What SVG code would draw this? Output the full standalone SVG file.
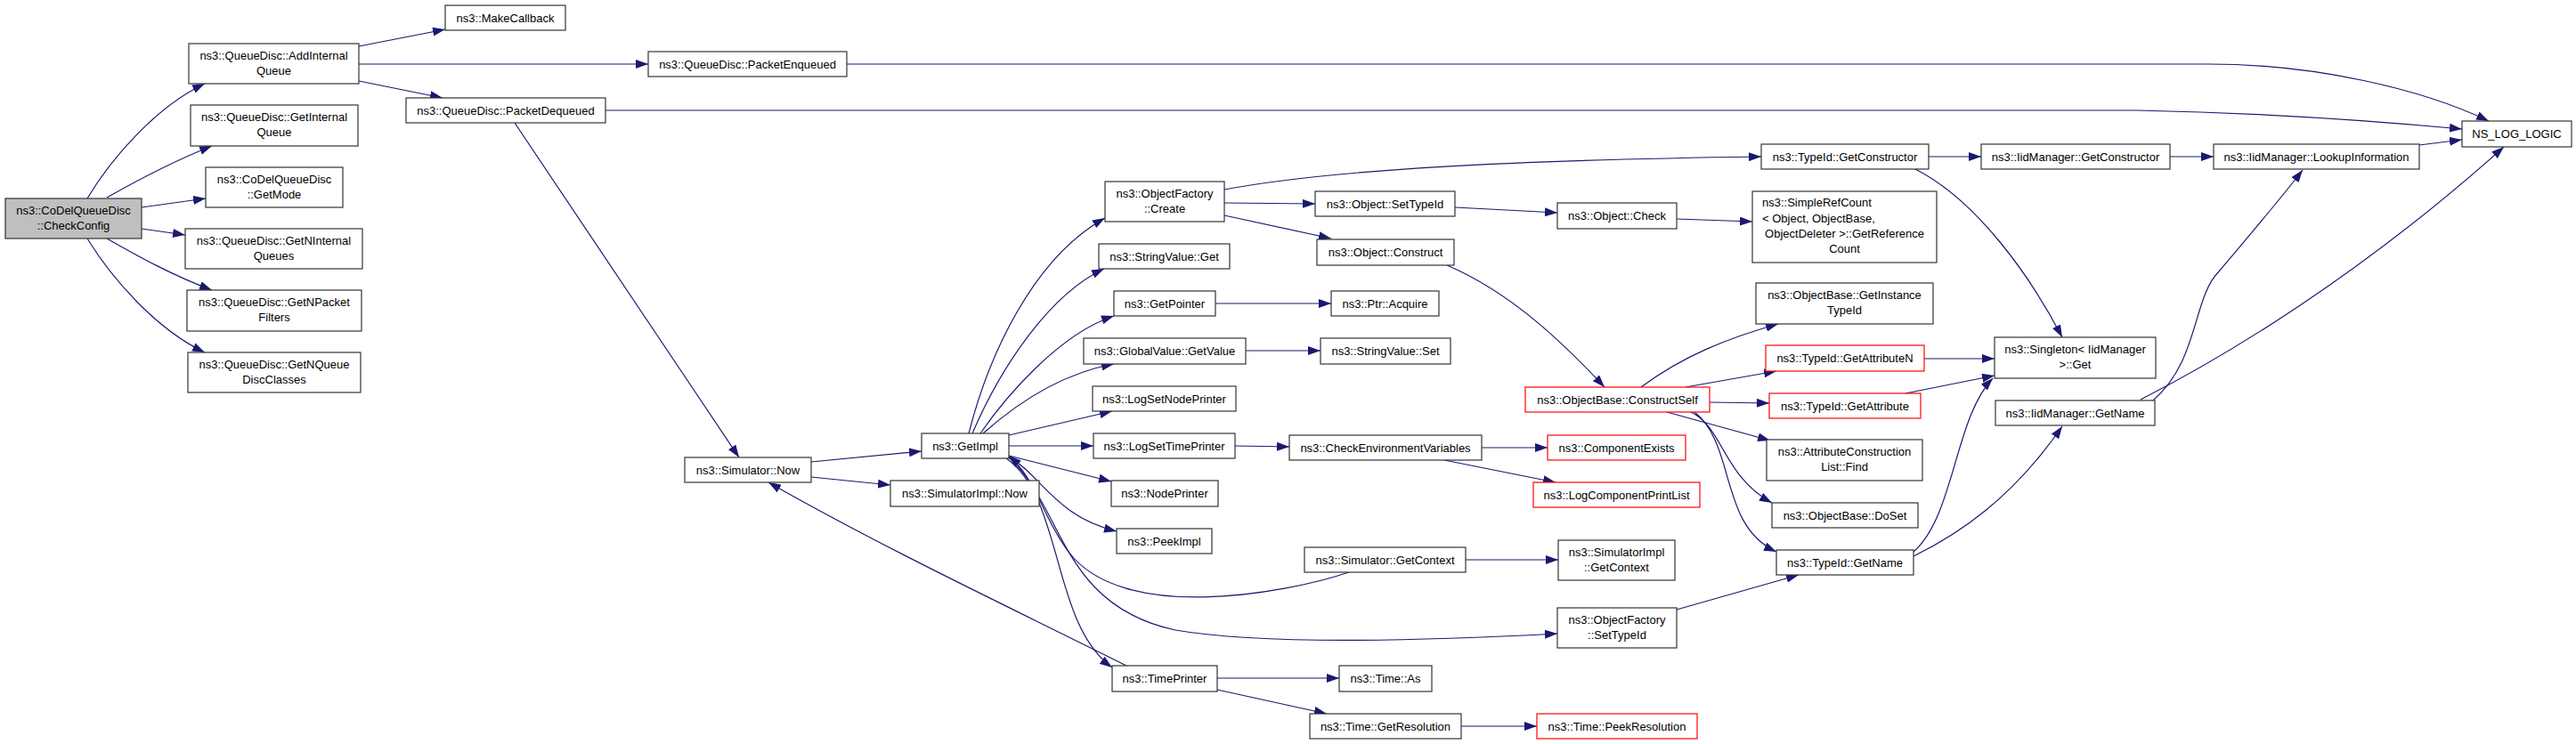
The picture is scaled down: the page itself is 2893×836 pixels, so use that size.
<svg xmlns="http://www.w3.org/2000/svg" width="2893" height="836" viewBox="0 0 2893 836">
<defs>
<style>
.n rect{fill:#ffffff;stroke:#333333;stroke-width:1.2}
.root rect{fill:#bfbfbf}
.red rect{stroke:#ff0000}
.n text{font-family:"Liberation Sans",Arial,sans-serif;font-size:13px;fill:#000000;text-anchor:middle}
.n text.l{text-anchor:start}
#edges path{fill:none;stroke:#191970;stroke-width:1.2;marker-end:url(#ah)}
</style>
<marker id="ah" markerWidth="14" markerHeight="10" refX="14" refY="5" orient="auto" markerUnits="userSpaceOnUse"><path d="M0,0 L14,5 L0,10 z" fill="#191970"/></marker>
</defs>
<rect x="0" y="0" width="2893" height="836" fill="#ffffff"/>
<g id="edges">
<path d="M98,223 C125,178 175,120 230,94"/>
<path d="M120,222 C150,205 190,183 238,164"/>
<path d="M159,233 L231,223"/>
<path d="M159,257 L208,264"/>
<path d="M120,268 C150,285 190,308 238,326"/>
<path d="M98,268 C125,312 175,370 230,396"/>
<path d="M403,52 L500,33"/>
<path d="M403,72 L728,72"/>
<path d="M403,91 L497,110"/>
<path d="M951,72 L2480,72 C2600,72 2720,100 2795,136"/>
<path d="M680,124 L2400,124 C2550,127 2680,137 2765,145"/>
<path d="M578,138 L830,514"/>
<path d="M911,519 L1035,507"/>
<path d="M911,536 L1000,545"/>
<path d="M1265,748 C1150,690 1000,620 863,542"/>
<path d="M1088,487 C1110,400 1160,290 1241,245"/>
<path d="M1092,487 C1125,410 1180,330 1240,302"/>
<path d="M1101,487 C1130,445 1190,375 1251,355"/>
<path d="M1104,487 C1140,455 1190,420 1251,409"/>
<path d="M1133,489 L1249,462"/>
<path d="M1133,501 L1228,501"/>
<path d="M1133,512 L1248,541"/>
<path d="M1133,513 C1170,535 1185,580 1254,597"/>
<path d="M1130,515 C1195,560 1180,700 1249,750"/>
<path d="M1515,643 C1440,668 1260,700 1200,620 C1170,580 1165,540 1133,512"/>
<path d="M1133,514 C1195,570 1190,680 1320,708 C1420,725 1600,720 1749,712"/>
<path d="M1375,213 C1500,190 1700,180 1978,176"/>
<path d="M1375,228 L1477,229"/>
<path d="M1375,242 L1495,268"/>
<path d="M1634,233 L1749,239"/>
<path d="M1883,246 L1968,249"/>
<path d="M1625,298 C1700,330 1760,390 1802,435"/>
<path d="M1843,435 C1890,400 1940,380 1997,364"/>
<path d="M1893,435 L1995,417"/>
<path d="M1920,452 L1987,453"/>
<path d="M1872,463 L1988,495"/>
<path d="M1899,463 C1935,480 1935,535 1990,565"/>
<path d="M1903,463 C1950,500 1930,590 1995,620"/>
<path d="M1883,685 L2020,646"/>
<path d="M1664,503 L1738,503"/>
<path d="M1622,517 L1747,542"/>
<path d="M1387,501 L1448,502"/>
<path d="M1646,629 L1750,629"/>
<path d="M1367,762 L1504,762"/>
<path d="M1367,775 L1490,802"/>
<path d="M1641,816 L1726,816"/>
<path d="M1365,341 L1495,341"/>
<path d="M1399,394 L1483,394"/>
<path d="M2166,176 L2225,176"/>
<path d="M2437,176 L2486,176"/>
<path d="M2717,163 L2765,157"/>
<path d="M2151,190 C2220,225 2280,310 2316,379"/>
<path d="M2161,403 L2240,403"/>
<path d="M2140,442 L2240,422"/>
<path d="M2149,620 C2195,580 2195,470 2238,425"/>
<path d="M2149,625 C2200,600 2260,560 2316,479"/>
<path d="M2418,450 C2470,405 2462,335 2492,305 C2530,260 2560,225 2586,191"/>
<path d="M2404,449 C2500,400 2650,310 2812,165"/>
</g>
<g id="n_checkconfig" class="n root"><rect x="6" y="223" width="153" height="45"/><text x="82.5" y="240.5">ns3::CoDelQueueDisc</text><text x="82.5" y="257.5">::CheckConfig</text></g>
<g id="n_addinternalqueue" class="n"><rect x="212" y="49" width="191" height="45"/><text x="307.5" y="66.5">ns3::QueueDisc::AddInternal</text><text x="307.5" y="83.5">Queue</text></g>
<g id="n_getinternalqueue" class="n"><rect x="214" y="118" width="188" height="46"/><text x="308" y="135.5">ns3::QueueDisc::GetInternal</text><text x="308" y="152.5">Queue</text></g>
<g id="n_getmode" class="n"><rect x="231" y="188" width="154" height="45"/><text x="308" y="205.5">ns3::CoDelQueueDisc</text><text x="308" y="222.5">::GetMode</text></g>
<g id="n_getninternalqueues" class="n"><rect x="208" y="257" width="199" height="45"/><text x="307.5" y="274.5">ns3::QueueDisc::GetNInternal</text><text x="307.5" y="291.5">Queues</text></g>
<g id="n_getnpacketfilters" class="n"><rect x="210" y="326" width="196" height="46"/><text x="308" y="343.5">ns3::QueueDisc::GetNPacket</text><text x="308" y="360.5">Filters</text></g>
<g id="n_getnqueuediscclasses" class="n"><rect x="211" y="396" width="194" height="45"/><text x="308" y="413.5">ns3::QueueDisc::GetNQueue</text><text x="308" y="430.5">DiscClasses</text></g>
<g id="n_makecallback" class="n"><rect x="500" y="6" width="135" height="28"/><text x="567.5" y="24.5">ns3::MakeCallback</text></g>
<g id="n_packetenqueued" class="n"><rect x="728" y="58" width="223" height="28"/><text x="839.5" y="76.5">ns3::QueueDisc::PacketEnqueued</text></g>
<g id="n_packetdequeued" class="n"><rect x="456" y="110" width="224" height="28"/><text x="568" y="128.5">ns3::QueueDisc::PacketDequeued</text></g>
<g id="n_simnow" class="n"><rect x="769" y="514" width="142" height="28"/><text x="840" y="532.5">ns3::Simulator::Now</text></g>
<g id="n_getimpl" class="n"><rect x="1035" y="487" width="98" height="28"/><text x="1084" y="505.5">ns3::GetImpl</text></g>
<g id="n_simimplnow" class="n"><rect x="1000" y="540" width="167" height="29"/><text x="1083.5" y="559">ns3::SimulatorImpl::Now</text></g>
<g id="n_ofcreate" class="n"><rect x="1241" y="204" width="134" height="45"/><text x="1308" y="221.5">ns3::ObjectFactory</text><text x="1308" y="238.5">::Create</text></g>
<g id="n_svget" class="n"><rect x="1234" y="274" width="147" height="28"/><text x="1307.5" y="292.5">ns3::StringValue::Get</text></g>
<g id="n_getpointer" class="n"><rect x="1251" y="327" width="114" height="28"/><text x="1308" y="345.5">ns3::GetPointer</text></g>
<g id="n_gvgetvalue" class="n"><rect x="1217" y="380" width="182" height="29"/><text x="1308" y="399">ns3::GlobalValue::GetValue</text></g>
<g id="n_logsetnodeprinter" class="n"><rect x="1227" y="434" width="161" height="28"/><text x="1307.5" y="452.5">ns3::LogSetNodePrinter</text></g>
<g id="n_logsettimeprinter" class="n"><rect x="1228" y="487" width="159" height="28"/><text x="1307.5" y="505.5">ns3::LogSetTimePrinter</text></g>
<g id="n_nodeprinter" class="n"><rect x="1248" y="540" width="120" height="29"/><text x="1308" y="559">ns3::NodePrinter</text></g>
<g id="n_peekimpl" class="n"><rect x="1254" y="594" width="107" height="28"/><text x="1307.5" y="612.5">ns3::PeekImpl</text></g>
<g id="n_timeprinter" class="n"><rect x="1249" y="748" width="118" height="29"/><text x="1308" y="767">ns3::TimePrinter</text></g>
<g id="n_objsettypeid" class="n"><rect x="1477" y="215" width="157" height="28"/><text x="1555.5" y="233.5">ns3::Object::SetTypeId</text></g>
<g id="n_objconstruct" class="n"><rect x="1479" y="269" width="154" height="29"/><text x="1556" y="288">ns3::Object::Construct</text></g>
<g id="n_ptracquire" class="n"><rect x="1495" y="327" width="121" height="28"/><text x="1555.5" y="345.5">ns3::Ptr::Acquire</text></g>
<g id="n_svset" class="n"><rect x="1483" y="380" width="146" height="29"/><text x="1556" y="399">ns3::StringValue::Set</text></g>
<g id="n_checkenv" class="n"><rect x="1448" y="489" width="216" height="28"/><text x="1556" y="507.5">ns3::CheckEnvironmentVariables</text></g>
<g id="n_simgetcontext" class="n"><rect x="1465" y="615" width="181" height="28"/><text x="1555.5" y="633.5">ns3::Simulator::GetContext</text></g>
<g id="n_timeas" class="n"><rect x="1504" y="748" width="104" height="29"/><text x="1556" y="767">ns3::Time::As</text></g>
<g id="n_timegetres" class="n"><rect x="1471" y="802" width="170" height="28"/><text x="1556" y="820.5">ns3::Time::GetResolution</text></g>
<g id="n_objcheck" class="n"><rect x="1749" y="228" width="134" height="29"/><text x="1816" y="247">ns3::Object::Check</text></g>
<g id="n_constructself" class="n red"><rect x="1713" y="435" width="207" height="28"/><text x="1816.5" y="453.5">ns3::ObjectBase::ConstructSelf</text></g>
<g id="n_componentexists" class="n red"><rect x="1738" y="489" width="155" height="28"/><text x="1815.5" y="507.5">ns3::ComponentExists</text></g>
<g id="n_logcompprintlist" class="n red"><rect x="1722" y="542" width="187" height="28"/><text x="1815.5" y="560.5">ns3::LogComponentPrintList</text></g>
<g id="n_simimplgetcontext" class="n"><rect x="1750" y="607" width="131" height="45"/><text x="1815.5" y="624.5">ns3::SimulatorImpl</text><text x="1815.5" y="641.5">::GetContext</text></g>
<g id="n_ofsettypeid" class="n"><rect x="1749" y="683" width="134" height="45"/><text x="1816" y="700.5">ns3::ObjectFactory</text><text x="1816" y="717.5">::SetTypeId</text></g>
<g id="n_peekres" class="n red"><rect x="1726" y="802" width="180" height="28"/><text x="1816" y="820.5">ns3::Time::PeekResolution</text></g>
<g id="n_tidgetconstructor" class="n"><rect x="1978" y="162" width="188" height="28"/><text x="2072" y="180.5">ns3::TypeId::GetConstructor</text></g>
<g id="n_simplerefcount" class="n"><rect x="1968" y="215" width="207" height="80"/><text class="l" x="1979" y="232">ns3::SimpleRefCount</text><text class="l" x="1979" y="249.5">&lt; Object, ObjectBase,</text><text x="2071.5" y="267">ObjectDeleter &gt;::GetReference</text><text x="2071.5" y="284">Count</text></g>
<g id="n_getinstancetypeid" class="n"><rect x="1972" y="318" width="199" height="46"/><text x="2071.5" y="335.5">ns3::ObjectBase::GetInstance</text><text x="2071.5" y="352.5">TypeId</text></g>
<g id="n_getattributen" class="n red"><rect x="1983" y="388" width="178" height="29"/><text x="2072" y="407">ns3::TypeId::GetAttributeN</text></g>
<g id="n_getattribute" class="n red"><rect x="1987" y="442" width="170" height="28"/><text x="2072" y="460.5">ns3::TypeId::GetAttribute</text></g>
<g id="n_acl_find" class="n"><rect x="1984" y="494" width="175" height="46"/><text x="2071.5" y="511.5">ns3::AttributeConstruction</text><text x="2071.5" y="528.5">List::Find</text></g>
<g id="n_doset" class="n"><rect x="1990" y="565" width="164" height="28"/><text x="2072" y="583.5">ns3::ObjectBase::DoSet</text></g>
<g id="n_tidgetname" class="n"><rect x="1995" y="618" width="154" height="28"/><text x="2072" y="636.5">ns3::TypeId::GetName</text></g>
<g id="n_iidgetconstructor" class="n"><rect x="2225" y="162" width="212" height="28"/><text x="2331" y="180.5">ns3::IidManager::GetConstructor</text></g>
<g id="n_singleton" class="n"><rect x="2240" y="379" width="181" height="46"/><text x="2330.5" y="396.5">ns3::Singleton&lt; IidManager</text><text x="2330.5" y="413.5">&gt;::Get</text></g>
<g id="n_iidgetname" class="n"><rect x="2241" y="450" width="179" height="28"/><text x="2330.5" y="468.5">ns3::IidManager::GetName</text></g>
<g id="n_lookupinfo" class="n"><rect x="2486" y="162" width="231" height="28"/><text x="2601.5" y="180.5">ns3::IidManager::LookupInformation</text></g>
<g id="n_nslog" class="n"><rect x="2765" y="136" width="123" height="29"/><text x="2826.5" y="155">NS_LOG_LOGIC</text></g>
</svg>
